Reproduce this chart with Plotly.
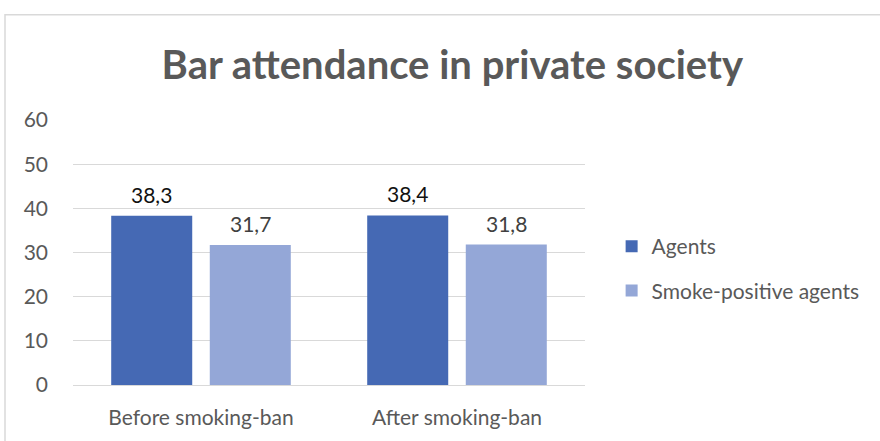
import plotly.graph_objects as go

categories = ["Before smoking-ban", "After smoking-ban"]
agents = [38.3, 38.4]
smoke_positive = [31.7, 31.8]
series_names = ["Agents", "Smoke-positive agents"]
colors = ["#4569B4", "#94A7D7"]
label_colors = ["#111111", "#404040"]
FONT = "Lato, Open Sans, sans-serif"

BARGAP = 0.23
GROUPGAP = 0.178
n_series = 2
slot = (1 - BARGAP) / n_series

fig = go.Figure()
annotations = []
for k, (name, vals, col, lc) in enumerate(zip(series_names, [agents, smoke_positive], colors, label_colors)):
    fig.add_trace(go.Bar(
        x=categories, y=vals, name=name, legendgroup=name,
        marker=dict(color=col, line=dict(width=0)),
    ))
    off = (k - (n_series - 1) / 2) * slot
    for i, v in enumerate(vals):
        annotations.append(dict(
            x=i + off, y=v, xref="x", yref="y", text=f"{v:.1f}".replace(".", ","),
            showarrow=False, yanchor="bottom", yshift=7,
            font=dict(size=21, color=lc, family=FONT)))

fig.update_layout(
    width=880, height=441,
    margin=dict(l=73, r=295, t=120, b=54),
    paper_bgcolor="white", plot_bgcolor="white",
    separators=",.",
    barmode="group", bargap=BARGAP, bargroupgap=GROUPGAP,
    font=dict(family=FONT, size=21, color="#595959"),
    title=dict(text="<b>Bar attendance in private society</b>",
               x=0.514, xanchor="center", y=1 - 65 / 441, yanchor="middle",
               font=dict(size=40, color="#595959", family=FONT)),
    legend=dict(x=1.052, y=0.6, xanchor="left", yanchor="top",
                font=dict(size=21, color="#595959"), tracegroupgap=14,
                itemwidth=30, bgcolor="rgba(0,0,0,0)"),
    showlegend=True,
    annotations=annotations,
    shapes=[dict(type="rect", xref="paper", yref="paper",
                 x0=(5 - 73) / 512, x1=(890 - 73) / 512,
                 y0=(387 - 450) / 267, y1=(387 - 14) / 267,
                 line=dict(color="#D9D9D9", width=1.5), fillcolor="rgba(0,0,0,0)", layer="below")],
)
fig.update_yaxes(range=[0, 60], dtick=10, showgrid=True, gridcolor="#D9D9D9", gridwidth=1,
                 zeroline=False, showline=False, ticks="", ticklabelstandoff=24,
                 tickfont=dict(size=21, color="#595959"))
fig.update_xaxes(showgrid=False, showline=True, linecolor="#D9D9D9", linewidth=1, ticks="",
                 ticklabelstandoff=14, tickfont=dict(size=21, color="#595959"))

fig.write_html("out.html")
